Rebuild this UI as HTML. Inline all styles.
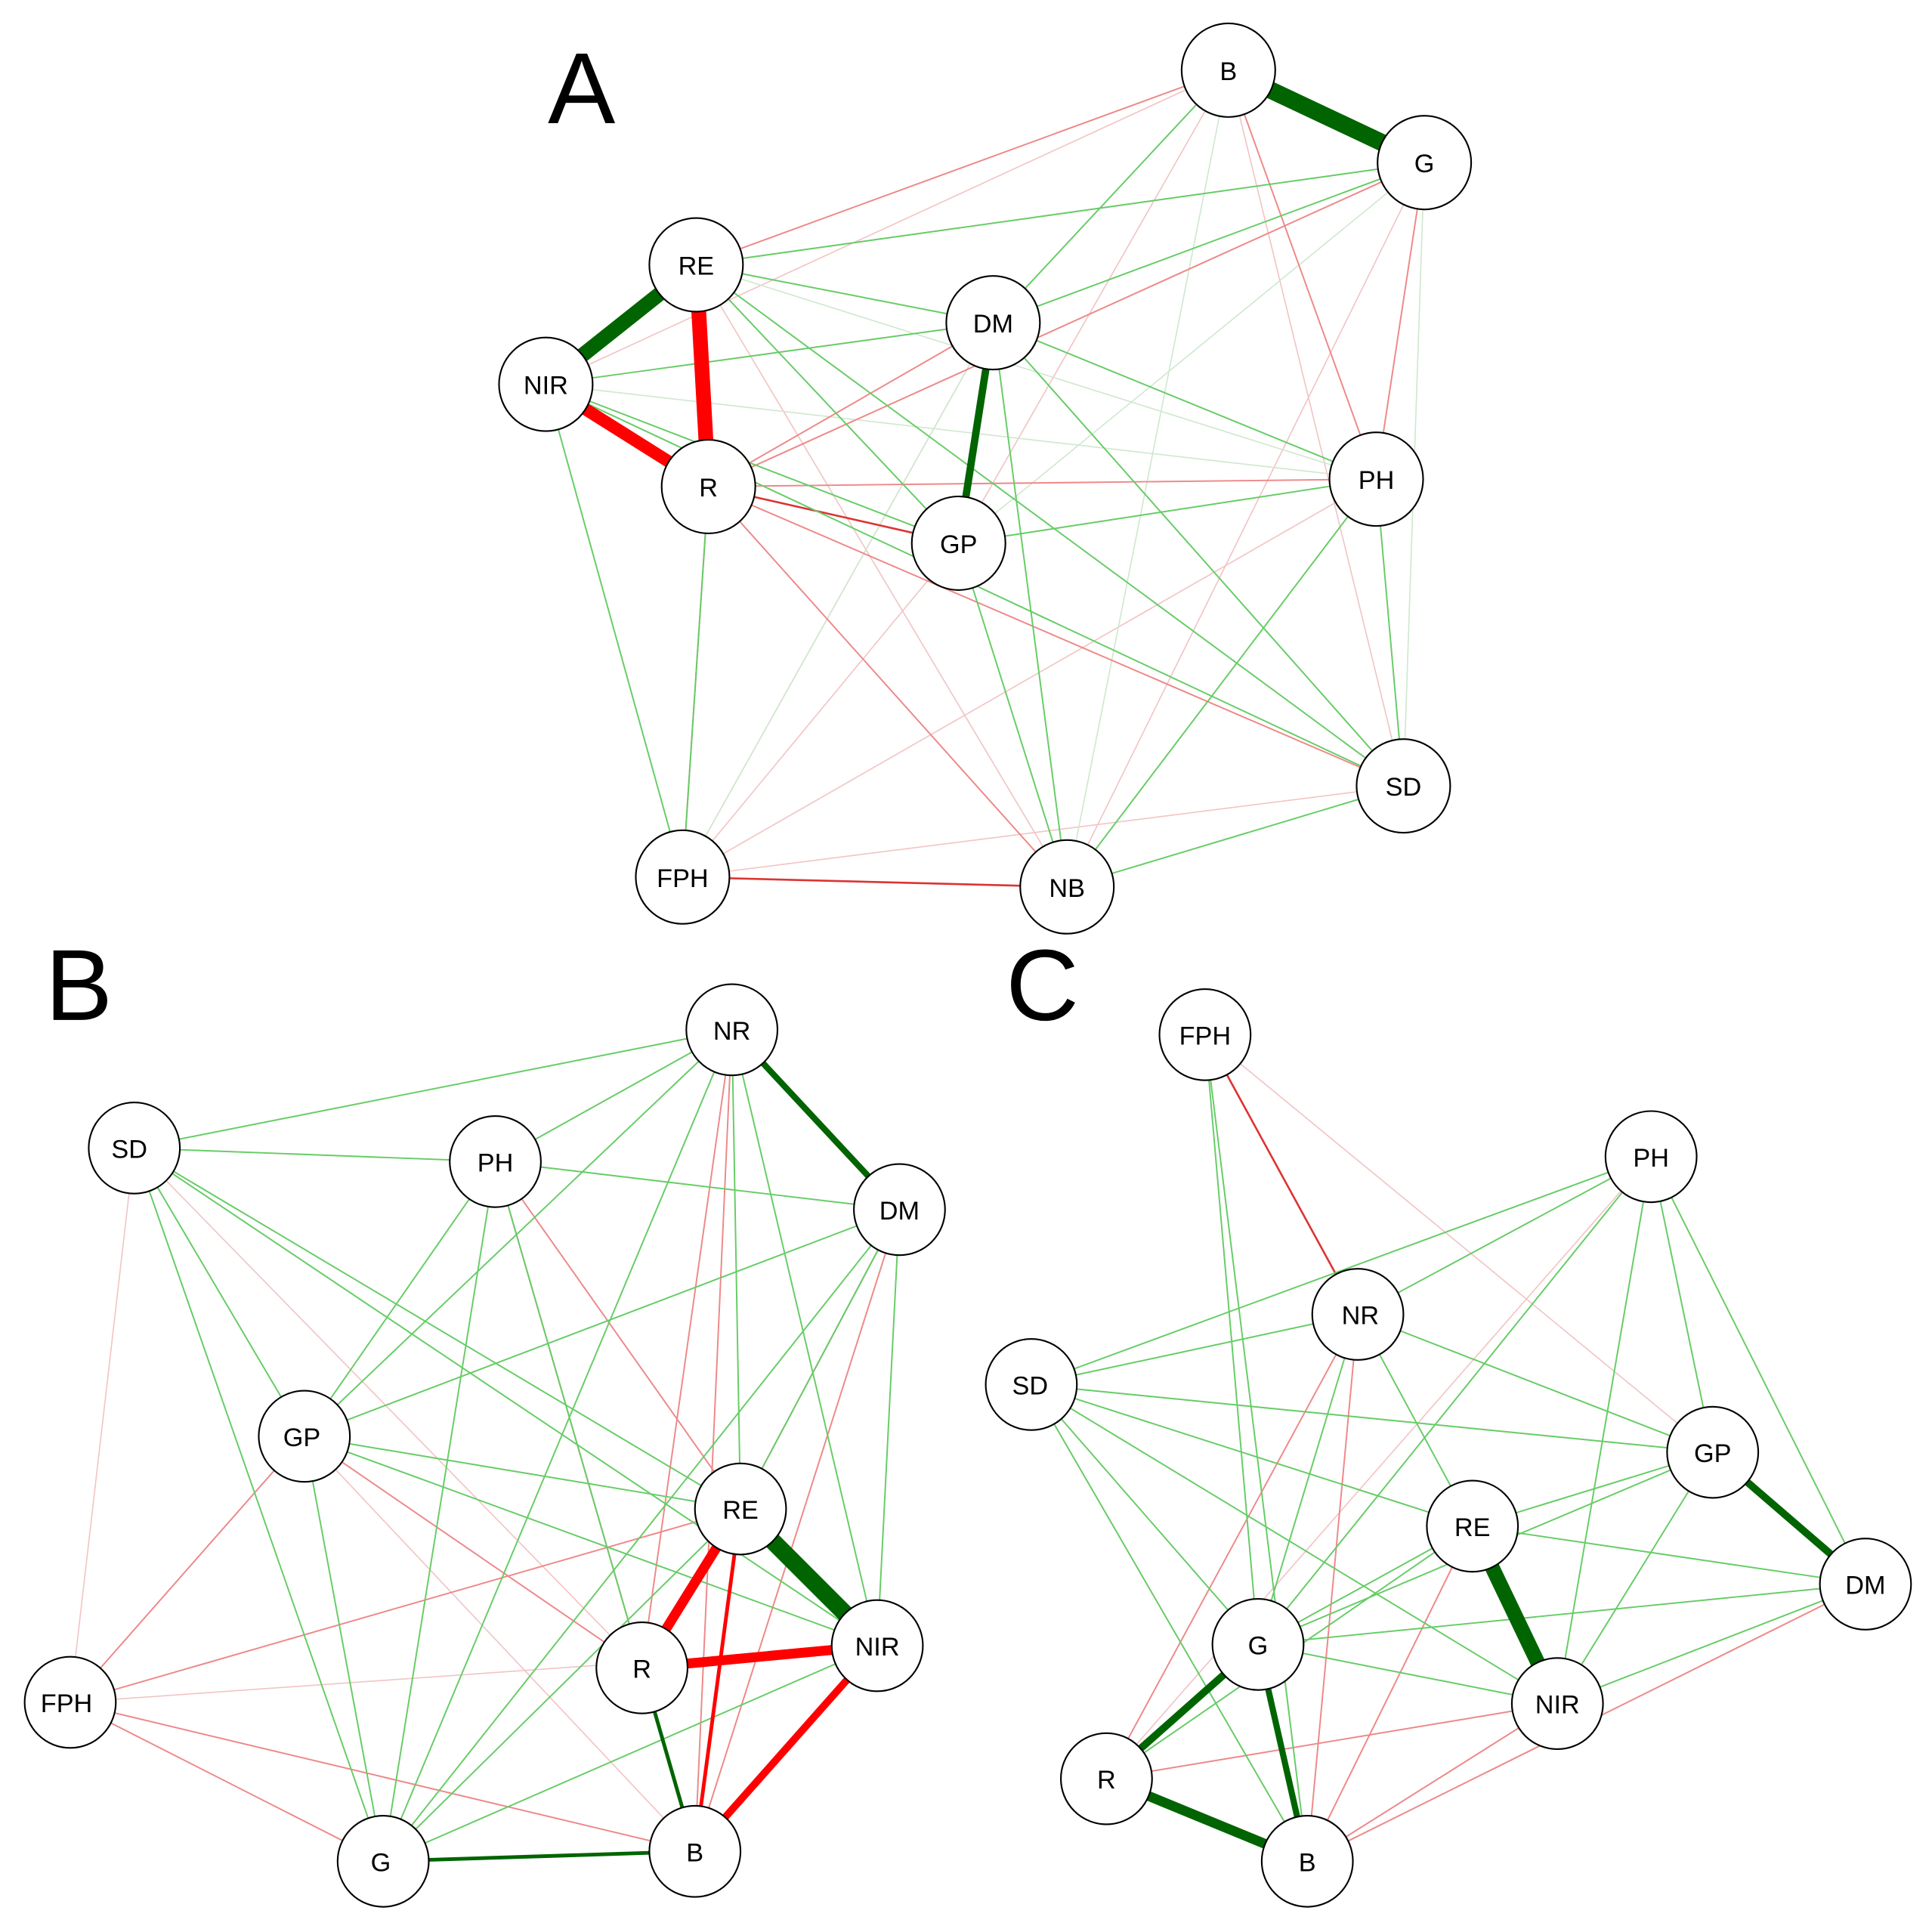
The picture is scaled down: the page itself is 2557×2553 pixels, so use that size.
<!DOCTYPE html>
<html><head><meta charset="utf-8"><style>
html,body{margin:0;padding:0;background:#fff;}
svg{display:block;}
text{font-family:"Liberation Sans","DejaVu Sans",sans-serif;}
</style></head><body>
<svg width="2557" height="2553" viewBox="0 0 1568 1566" preserveAspectRatio="none" xmlns="http://www.w3.org/2000/svg">
<rect width="1568" height="1566" fill="#fff"/>
<text x="472" y="100" font-size="82" text-anchor="middle">A</text>
<text x="64" y="828" font-size="82" text-anchor="middle">B</text>
<text x="846" y="828" font-size="82" text-anchor="middle">C</text>
<g stroke-linecap="butt">
<!-- Panel A faint -->
<g stroke="#f2c4c4" stroke-width="1">
<line x1="997" y1="57" x2="443" y2="312"/><line x1="1156" y1="132" x2="575" y2="395"/><line x1="997" y1="57" x2="778" y2="441"/>
<line x1="1156" y1="132" x2="565" y2="215"/><line x1="554" y1="712" x2="806" y2="262"/><line x1="554" y1="712" x2="1117" y2="389"/>
<line x1="554" y1="712" x2="1139" y2="638"/><line x1="554" y1="712" x2="778" y2="441"/><line x1="997" y1="57" x2="1139" y2="638"/>
<line x1="866" y1="720" x2="565" y2="215"/><line x1="1156" y1="132" x2="866" y2="720"/>
</g>
<g stroke="#cfe8cf" stroke-width="1">
<line x1="997" y1="57" x2="866" y2="720"/><line x1="1156" y1="132" x2="1139" y2="638"/><line x1="1156" y1="132" x2="778" y2="441"/>
<line x1="565" y1="215" x2="1117" y2="389"/><line x1="443" y1="312" x2="1117" y2="389"/><line x1="806" y1="262" x2="554" y2="712"/>
<line x1="1156" y1="132" x2="565" y2="215"/>
</g>
<g stroke="#e88" stroke-width="1.2">
<line x1="997" y1="57" x2="1117" y2="389"/><line x1="1156" y1="132" x2="1117" y2="389"/><line x1="997" y1="57" x2="565" y2="215"/>
<line x1="575" y1="395" x2="806" y2="262"/><line x1="575" y1="395" x2="1139" y2="638"/><line x1="575" y1="395" x2="866" y2="720"/>
<line x1="575" y1="395" x2="554" y2="712"/><line x1="1156" y1="132" x2="575" y2="395"/><line x1="575" y1="395" x2="1117" y2="389"/>
</g>
<g stroke="#d33" stroke-width="1.6">
<line x1="575" y1="395" x2="778" y2="441"/><line x1="554" y1="712" x2="866" y2="720"/>
</g>
<g stroke="#6c6" stroke-width="1.2">
<line x1="565" y1="215" x2="806" y2="262"/><line x1="565" y1="215" x2="778" y2="441"/><line x1="443" y1="312" x2="806" y2="262"/>
<line x1="443" y1="312" x2="778" y2="441"/><line x1="806" y1="262" x2="1156" y2="132"/><line x1="806" y1="262" x2="1117" y2="389"/>
<line x1="806" y1="262" x2="866" y2="720"/><line x1="806" y1="262" x2="1139" y2="638"/><line x1="778" y1="441" x2="1117" y2="389"/>
<line x1="778" y1="441" x2="866" y2="720"/><line x1="1117" y1="389" x2="866" y2="720"/><line x1="1139" y1="638" x2="866" y2="720"/>
<line x1="443" y1="312" x2="554" y2="712"/><line x1="575" y1="395" x2="554" y2="712"/><line x1="565" y1="215" x2="1139" y2="638"/>
<line x1="997" y1="57" x2="806" y2="262"/><line x1="1117" y1="389" x2="1139" y2="638"/><line x1="443" y1="312" x2="1139" y2="638"/>
<line x1="1156" y1="132" x2="565" y2="215"/>
</g>
<line x1="997" y1="57" x2="1156" y2="132" stroke="#006400" stroke-width="14"/>
<line x1="565" y1="215" x2="443" y2="312" stroke="#006400" stroke-width="12"/>
<line x1="806" y1="262" x2="778" y2="441" stroke="#006400" stroke-width="6"/>
<line x1="565" y1="215" x2="575" y2="395" stroke="#f00" stroke-width="12"/>
<line x1="443" y1="312" x2="575" y2="395" stroke="#f00" stroke-width="10"/>

<!-- Panel B -->
<g stroke="#f2c4c4" stroke-width="1">
<line x1="109" y1="932" x2="57" y2="1382"/><line x1="109" y1="932" x2="521" y2="1354"/><line x1="57" y1="1382" x2="712" y2="1336"/>
<line x1="247" y1="1166" x2="564" y2="1503"/><line x1="402" y1="943" x2="564" y2="1503"/>
</g>
<g stroke="#e88" stroke-width="1.2">
<line x1="247" y1="1166" x2="57" y2="1382"/><line x1="247" y1="1166" x2="521" y2="1354"/><line x1="57" y1="1382" x2="311" y2="1511"/>
<line x1="57" y1="1382" x2="564" y2="1503"/><line x1="57" y1="1382" x2="601" y2="1225"/><line x1="402" y1="943" x2="601" y2="1225"/>
<line x1="402" y1="943" x2="521" y2="1354"/><line x1="730" y1="982" x2="564" y2="1503"/><line x1="594" y1="836" x2="564" y2="1503"/>
<line x1="730" y1="982" x2="601" y2="1225"/><line x1="594" y1="836" x2="521" y2="1354"/>
</g>
<g stroke="#6c6" stroke-width="1.2">
<line x1="594" y1="836" x2="109" y2="932"/><line x1="594" y1="836" x2="402" y2="943"/><line x1="594" y1="836" x2="247" y2="1166"/>
<line x1="594" y1="836" x2="601" y2="1225"/><line x1="594" y1="836" x2="712" y2="1336"/><line x1="594" y1="836" x2="311" y2="1511"/>
<line x1="109" y1="932" x2="402" y2="943"/><line x1="109" y1="932" x2="247" y2="1166"/><line x1="109" y1="932" x2="311" y2="1511"/>
<line x1="109" y1="932" x2="601" y2="1225"/><line x1="109" y1="932" x2="712" y2="1336"/><line x1="402" y1="943" x2="730" y2="982"/>
<line x1="402" y1="943" x2="247" y2="1166"/><line x1="402" y1="943" x2="311" y2="1511"/><line x1="730" y1="982" x2="247" y2="1166"/>
<line x1="730" y1="982" x2="601" y2="1225"/><line x1="730" y1="982" x2="712" y2="1336"/><line x1="730" y1="982" x2="311" y2="1511"/>
<line x1="247" y1="1166" x2="601" y2="1225"/><line x1="247" y1="1166" x2="712" y2="1336"/><line x1="247" y1="1166" x2="311" y2="1511"/>
<line x1="601" y1="1225" x2="311" y2="1511"/><line x1="712" y1="1336" x2="311" y2="1511"/><line x1="402" y1="943" x2="521" y2="1354"/>
</g>
<line x1="594" y1="836" x2="730" y2="982" stroke="#006400" stroke-width="5"/>
<line x1="601" y1="1225" x2="712" y2="1336" stroke="#006400" stroke-width="14"/>
<line x1="521" y1="1354" x2="564" y2="1503" stroke="#006400" stroke-width="3"/>
<line x1="311" y1="1511" x2="564" y2="1503" stroke="#006400" stroke-width="3"/>
<line x1="601" y1="1225" x2="521" y2="1354" stroke="#f00" stroke-width="8"/>
<line x1="521" y1="1354" x2="712" y2="1336" stroke="#f00" stroke-width="8"/>
<line x1="712" y1="1336" x2="564" y2="1503" stroke="#f00" stroke-width="6"/>
<line x1="601" y1="1225" x2="564" y2="1503" stroke="#f00" stroke-width="3"/>

<!-- Panel C -->
<g stroke="#f2c4c4" stroke-width="1">
<line x1="978" y1="840" x2="1390" y2="1179"/><line x1="1340" y1="939" x2="898" y2="1444"/><line x1="1514" y1="1286" x2="1061" y2="1511"/>
<line x1="1264" y1="1383" x2="1061" y2="1511"/><line x1="837" y1="1124" x2="1061" y2="1511"/>
</g>
<g stroke="#e88" stroke-width="1.2">
<line x1="1102" y1="1067" x2="898" y2="1444"/><line x1="1195" y1="1239" x2="1061" y2="1511"/><line x1="1264" y1="1383" x2="1061" y2="1511"/>
<line x1="898" y1="1444" x2="1264" y2="1383"/><line x1="1102" y1="1067" x2="1061" y2="1511"/><line x1="1514" y1="1286" x2="1061" y2="1511"/>
</g>
<line x1="978" y1="840" x2="1102" y2="1067" stroke="#d33" stroke-width="1.6"/>
<g stroke="#6c6" stroke-width="1.2">
<line x1="1340" y1="939" x2="837" y2="1124"/><line x1="1340" y1="939" x2="1102" y2="1067"/><line x1="1340" y1="939" x2="1390" y2="1179"/>
<line x1="1340" y1="939" x2="1514" y2="1286"/><line x1="1340" y1="939" x2="1021" y2="1335"/><line x1="1102" y1="1067" x2="837" y2="1124"/>
<line x1="1102" y1="1067" x2="1195" y2="1239"/><line x1="1102" y1="1067" x2="1390" y2="1179"/><line x1="1102" y1="1067" x2="1021" y2="1335"/>
<line x1="837" y1="1124" x2="1390" y2="1179"/><line x1="837" y1="1124" x2="1195" y2="1239"/><line x1="837" y1="1124" x2="1021" y2="1335"/>
<line x1="837" y1="1124" x2="1061" y2="1511"/><line x1="837" y1="1124" x2="1264" y2="1383"/><line x1="1390" y1="1179" x2="1195" y2="1239"/>
<line x1="1390" y1="1179" x2="1264" y2="1383"/><line x1="1390" y1="1179" x2="1021" y2="1335"/><line x1="1195" y1="1239" x2="1514" y2="1286"/>
<line x1="1195" y1="1239" x2="1021" y2="1335"/><line x1="1195" y1="1239" x2="898" y2="1444"/><line x1="1514" y1="1286" x2="1264" y2="1383"/>
<line x1="1514" y1="1286" x2="1021" y2="1335"/><line x1="1021" y1="1335" x2="1264" y2="1383"/><line x1="978" y1="840" x2="1061" y2="1511"/>
<line x1="978" y1="840" x2="1021" y2="1335"/><line x1="1340" y1="939" x2="1264" y2="1383"/>
</g>
<line x1="1195" y1="1239" x2="1264" y2="1383" stroke="#006400" stroke-width="12"/>
<line x1="1390" y1="1179" x2="1514" y2="1286" stroke="#006400" stroke-width="6"/>
<line x1="1021" y1="1335" x2="898" y2="1444" stroke="#006400" stroke-width="6"/>
<line x1="1021" y1="1335" x2="1061" y2="1511" stroke="#006400" stroke-width="5"/>
<line x1="898" y1="1444" x2="1061" y2="1511" stroke="#006400" stroke-width="8"/>
</g>

<g fill="#fff" stroke="#000" stroke-width="1.3">
<circle cx="997" cy="57" r="38"/><circle cx="1156" cy="132" r="38"/><circle cx="565" cy="215" r="38"/><circle cx="806" cy="262" r="38"/>
<circle cx="443" cy="312" r="38"/><circle cx="575" cy="395" r="38"/><circle cx="778" cy="441" r="38"/><circle cx="1117" cy="389" r="38"/>
<circle cx="1139" cy="638" r="38"/><circle cx="554" cy="712" r="38"/><circle cx="866" cy="720" r="38"/>
<circle cx="594" cy="836" r="37"/><circle cx="109" cy="932" r="37"/><circle cx="402" cy="943" r="37"/><circle cx="730" cy="982" r="37"/>
<circle cx="247" cy="1166" r="37"/><circle cx="601" cy="1225" r="37"/><circle cx="712" cy="1336" r="37"/><circle cx="521" cy="1354" r="37"/>
<circle cx="57" cy="1382" r="37"/><circle cx="311" cy="1511" r="37"/><circle cx="564" cy="1503" r="37"/>
<circle cx="978" cy="840" r="37"/><circle cx="1340" cy="939" r="37"/><circle cx="1102" cy="1067" r="37"/><circle cx="837" cy="1124" r="37"/>
<circle cx="1390" cy="1179" r="37"/><circle cx="1195" cy="1239" r="37"/><circle cx="1514" cy="1286" r="37"/><circle cx="1021" cy="1335" r="37"/>
<circle cx="1264" cy="1383" r="37"/><circle cx="898" cy="1444" r="37"/><circle cx="1061" cy="1511" r="37"/>
</g>
<g font-size="21" text-anchor="middle" fill="#000">
<text x="997" y="65">B</text><text x="1156" y="140">G</text><text x="565" y="223">RE</text><text x="806" y="270">DM</text>
<text x="443" y="320">NIR</text><text x="575" y="403">R</text><text x="778" y="449">GP</text><text x="1117" y="397">PH</text>
<text x="1139" y="646">SD</text><text x="554" y="720">FPH</text><text x="866" y="728">NB</text>
<text x="594" y="844">NR</text><text x="105" y="940">SD</text><text x="402" y="951">PH</text><text x="730" y="990">DM</text>
<text x="245" y="1174">GP</text><text x="601" y="1233">RE</text><text x="712" y="1344">NIR</text><text x="521" y="1362">R</text>
<text x="54" y="1390">FPH</text><text x="309" y="1519">G</text><text x="564" y="1511">B</text>
<text x="978" y="848">FPH</text><text x="1340" y="947">PH</text><text x="1104" y="1075">NR</text><text x="836" y="1132">SD</text>
<text x="1390" y="1187">GP</text><text x="1195" y="1247">RE</text><text x="1514" y="1294">DM</text><text x="1021" y="1343">G</text>
<text x="1264" y="1391">NIR</text><text x="898" y="1452">R</text><text x="1061" y="1519">B</text>
</g>
</svg>
</body></html>
